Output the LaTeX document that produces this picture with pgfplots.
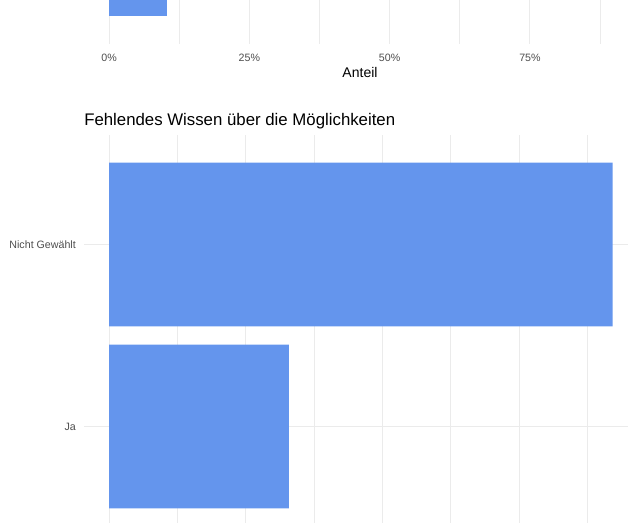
\documentclass[border=0pt]{standalone}
\usepackage{fontspec}
\setmainfont{Liberation Sans}
\usepackage{pgfplots}
\pgfplotsset{compat=1.18}
\definecolor{barblue}{HTML}{6495ED}
\definecolor{gridgrey}{HTML}{EBEBEB}
\definecolor{ticktext}{HTML}{4D4D4D}
\pgfplotsset{
  gg/.style={
    scale only axis, width=414pt,
    axis line style={draw=none},
    major tick length=0pt, minor tick length=0pt,
    tick style={draw=none},
    xmajorgrids, xminorgrids, ymajorgrids,
    major grid style={gridgrey, line width=0.8pt},
    minor grid style={gridgrey, line width=0.5pt},
    xbar, bar width=0.9,
    ymin=0.4, ymax=2.6, ytick={1,2},
    xtick={0,0.25,0.5,0.75},
    minor xtick={0.125,0.375,0.625,0.875},
    ticklabel style={font=\fontsize{8}{9.6}\selectfont, text=ticktext},
    xticklabel style={yshift=-4.2pt},
    yticklabel style={xshift=-2.6pt},
  }
}
\begin{document}
\begin{tikzpicture}
\useasboundingbox (0,0) rectangle (471pt,392.25pt);
\begin{scope}
\clip (0,0) rectangle (471pt,392.25pt);
% top (cropped) panel
\begin{axis}[gg, overlay, at={(63pt,359.25pt)}, anchor=south west, height=306.9pt,
  xmin=-0.0447, xmax=0.939,
  yticklabels={,},
  xticklabels={0\%,25\%,50\%,75\%},
  xlabel={Anteil},
  xlabel style={at={(axis description cs:0.5,0)}, anchor=center, yshift=-21.75pt, font=\fontsize{10.5}{12}\selectfont},
]
\addplot[fill=barblue, draw=none] coordinates {(0.104,1)};
\end{axis}
% bottom panel
\begin{axis}[gg, overlay, at={(63pt,290.75pt)}, anchor=north west, height=300.3pt,
  xmin=-0.0459, xmax=0.964,
  yticklabels={Ja,Nicht Gewählt},
  xticklabels={,,,},
  title={Fehlendes Wissen über die Möglichkeiten},
  title style={at={(axis description cs:0,1)}, anchor=base west, yshift=1.3pt, inner sep=0pt, font=\fontsize{12.6}{15}\selectfont},
]
\addplot[fill=barblue, draw=none] coordinates {(0.329,1) (0.921,2)};
\end{axis}
\end{scope}
\end{tikzpicture}
\end{document}
